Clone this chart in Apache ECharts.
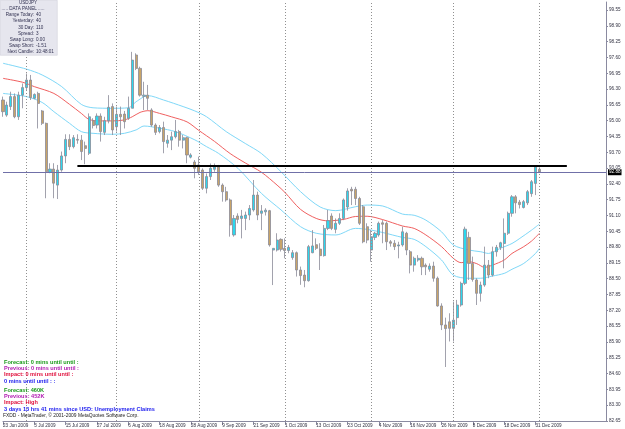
<!DOCTYPE html>
<html>
<head>
<meta charset="utf-8">
<script src="https://cdn.jsdelivr.net/npm/echarts@6.0.0/dist/echarts.min.js"></script>
<style>
html, body { margin: 0; padding: 0; background: #fff; }
#main { width: 625px; height: 429px; }
</style>
</head>
<body>
<div id="main"></div>
<script>
// USDJPY daily, 23 Jun 2009 .. 1 Jan 2010
const dateTicks = ['23 Jun 2009', '3 Jul 2009', '15 Jul 2009', '27 Jul 2009', '6 Aug 2009',
  '18 Aug 2009', '28 Aug 2009', '9 Sep 2009', '21 Sep 2009', '1 Oct 2009', '13 Oct 2009',
  '23 Oct 2009', '4 Nov 2009', '16 Nov 2009', '26 Nov 2009', '8 Dec 2009', '18 Dec 2009', '31 Dec 2009'];

// [open, close, low, high]
const candles = [
  [95.85, 95.37, 95.16, 95.99], [95.23, 95.64, 95.16, 95.78], [95.58, 95.99, 95.44, 96.19],
  [95.99, 95.16, 95.10, 96.12], [95.16, 96.05, 95.03, 96.19], [96.05, 96.36, 95.51, 96.53],
  [96.36, 96.67, 96.26, 96.94], [96.67, 95.95, 95.85, 96.88], [95.92, 96.08, 95.88, 96.12],
  [96.12, 95.71, 94.68, 96.19], [95.40, 94.89, 94.82, 95.44], [94.89, 92.90, 91.81, 94.92],
  [92.88, 93.01, 92.84, 93.25], [93.01, 92.43, 91.81, 93.25], [92.35, 92.97, 91.78, 93.18],
  [92.97, 93.55, 92.90, 93.73], [93.55, 94.23, 93.25, 94.44], [94.23, 93.93, 93.79, 94.44],
  [93.93, 94.30, 93.86, 94.41], [94.23, 94.20, 94.05, 94.44], [94.20, 93.73, 93.38, 94.41],
  [93.97, 93.86, 93.21, 94.14], [93.66, 95.16, 93.59, 95.30], [95.00, 94.80, 94.68, 95.10],
  [94.82, 95.19, 94.68, 95.30], [95.19, 94.55, 94.14, 95.30], [94.52, 95.00, 94.41, 95.16],
  [95.00, 95.55, 94.89, 96.05], [95.58, 94.62, 94.41, 95.71], [94.75, 95.26, 94.55, 95.58],
  [95.26, 95.16, 94.41, 95.58], [95.27, 94.96, 94.68, 95.40], [95.10, 95.51, 95.03, 95.99],
  [95.51, 97.49, 95.51, 97.83], [97.70, 97.15, 97.08, 97.77], [97.15, 96.05, 95.99, 97.22],
  [96.00, 96.05, 95.44, 96.60], [96.05, 95.92, 95.44, 96.47], [95.44, 94.82, 94.75, 95.51],
  [94.82, 94.52, 94.41, 94.89], [94.55, 94.72, 94.48, 94.82], [94.72, 94.14, 93.66, 94.96],
  [94.07, 94.20, 93.89, 94.41], [94.20, 94.34, 93.79, 94.55], [94.34, 94.55, 94.27, 95.03],
  [94.55, 94.20, 93.93, 94.62], [94.20, 94.30, 93.86, 94.41], [94.30, 93.59, 93.25, 94.34],
  [93.50, 93.59, 93.45, 93.66], [93.30, 93.04, 92.63, 93.38], [93.18, 92.90, 92.77, 93.52],
  [92.97, 92.22, 92.15, 93.04], [92.22, 92.70, 92.01, 92.83], [92.70, 93.04, 92.56, 93.24],
  [93.00, 93.10, 92.90, 93.24], [93.10, 92.35, 92.28, 93.18], [92.35, 92.08, 91.67, 92.42],
  [92.08, 91.74, 91.67, 92.28], [91.74, 90.71, 90.23, 91.80], [90.30, 90.98, 90.23, 91.12],
  [91.08, 90.94, 90.78, 91.19], [90.98, 91.08, 90.16, 91.33], [90.98, 91.12, 90.50, 91.26],
  [91.12, 91.39, 90.91, 91.53], [91.33, 91.94, 91.26, 92.56], [91.94, 91.12, 90.91, 92.08],
  [91.19, 91.29, 90.50, 91.53], [91.25, 91.32, 91.10, 91.40], [91.30, 89.89, 89.82, 91.33],
  [89.68, 89.75, 88.24, 89.75], [89.68, 90.09, 89.62, 90.37], [90.12, 89.71, 89.62, 90.16],
  [89.75, 89.66, 89.34, 90.16], [89.66, 89.79, 89.55, 89.89], [89.37, 89.57, 89.28, 89.68],
  [89.57, 88.86, 88.59, 89.62], [88.86, 88.63, 88.25, 89.00], [88.65, 88.42, 88.15, 88.86],
  [88.42, 89.82, 88.38, 89.89], [89.57, 89.85, 89.55, 90.50], [89.90, 89.75, 89.68, 90.16],
  [89.72, 89.45, 88.86, 89.96], [89.45, 90.57, 89.41, 90.71], [90.57, 90.89, 90.50, 91.33],
  [91.08, 90.57, 90.50, 91.19], [90.53, 90.78, 90.37, 90.98], [90.78, 90.98, 90.71, 91.19],
  [90.98, 91.74, 90.91, 91.80], [91.45, 92.11, 91.30, 92.22], [92.18, 92.11, 91.53, 92.28],
  [92.18, 91.80, 91.53, 92.28], [91.80, 90.78, 90.71, 91.87], [91.46, 90.02, 89.96, 91.53],
  [90.64, 90.09, 89.96, 90.78], [89.68, 90.23, 89.20, 90.50], [90.20, 90.37, 90.09, 90.43],
  [90.30, 90.78, 90.23, 90.85], [90.80, 90.74, 89.96, 90.91], [90.78, 90.02, 89.68, 90.85],
  [90.02, 89.96, 89.82, 90.09], [89.96, 89.82, 89.68, 90.09], [89.85, 89.89, 89.34, 90.02],
  [89.89, 90.43, 89.82, 90.64], [90.37, 89.68, 89.47, 90.43], [89.61, 89.06, 88.72, 89.68],
  [89.06, 89.34, 88.79, 89.41], [89.27, 89.34, 89.20, 89.47], [89.34, 88.99, 88.65, 89.41],
  [89.06, 88.99, 88.65, 89.13], [88.89, 89.02, 88.79, 89.13], [89.02, 88.52, 88.38, 89.20],
  [88.52, 87.38, 87.35, 88.59], [87.38, 86.60, 86.39, 87.49], [86.60, 86.45, 84.87, 86.90],
  [86.73, 86.46, 85.92, 87.08], [86.46, 86.80, 85.92, 87.56], [86.90, 87.42, 86.60, 87.63],
  [87.42, 88.31, 87.35, 88.38], [88.31, 90.54, 88.24, 90.64], [90.20, 89.13, 88.45, 90.43],
  [89.13, 88.47, 88.38, 89.41], [88.45, 87.90, 87.42, 88.52], [87.90, 88.24, 87.56, 88.38],
  [88.24, 89.06, 88.17, 89.82], [89.06, 88.65, 88.52, 89.27], [88.65, 89.61, 88.59, 89.82],
  [89.61, 89.79, 89.41, 89.89], [89.79, 89.98, 89.68, 90.02], [89.95, 90.37, 88.93, 90.98],
  [90.37, 91.19, 90.30, 91.26], [91.19, 91.87, 91.05, 91.94], [91.87, 91.62, 91.19, 91.94],
  [91.65, 91.55, 91.39, 91.74], [91.43, 91.67, 91.39, 91.74], [91.62, 92.08, 91.53, 92.15],
  [92.00, 92.49, 91.87, 92.56], [92.42, 93.10, 91.94, 93.17], [93.00, 92.88, 92.86, 93.08]
];

// moving average and its envelope, read at [bar index, price]
const maMid = [[0, 96.74], [5, 96.58], [8, 96.40], [13, 96.12], [17, 95.67], [20, 95.30],
  [22, 95.05], [25, 94.99], [28, 94.99], [31, 95.03], [33, 95.16], [35, 95.34], [37, 95.41],
  [40, 95.30], [43, 95.16], [47, 94.95], [50, 94.60], [54, 94.15], [58, 93.65], [62, 93.25],
  [66, 92.88], [70, 92.35], [72, 92.05], [76, 91.35], [80, 90.98], [83, 90.88], [87, 90.94],
  [90, 91.06], [93, 91.07], [97, 90.93], [102, 90.67], [105, 90.57], [108, 90.30], [112, 89.82],
  [115, 89.34], [117, 89.16], [119, 89.20], [121, 89.12], [123, 88.97], [125, 89.06],
  [128, 89.27], [130, 89.54], [133, 89.82], [135, 90.05], [137, 90.37]];
const maUpper = [[0, 97.36], [6, 97.12], [10, 96.88], [15, 96.40], [20, 95.67], [23, 95.53],
  [28, 95.51], [32, 95.53], [34, 95.78], [37, 96.03], [41, 95.85], [46, 95.58], [49, 95.40],
  [52, 95.16], [57, 94.55], [62, 94.05], [66, 93.65], [71, 92.90], [76, 92.08], [81, 91.45],
  [85, 91.30], [90, 91.46], [93, 91.53], [97, 91.49], [102, 91.16], [105, 91.11], [108, 90.91],
  [112, 90.43], [115, 89.89], [119, 89.68], [122, 89.61], [124, 89.54], [127, 89.75],
  [130, 89.95], [132, 90.16], [135, 90.50], [137, 90.75]];
const maLower = [[0, 96.12], [6, 95.99], [10, 95.75], [13, 95.37], [17, 94.89], [20, 94.55],
  [23, 94.48], [28, 94.44], [31, 94.48], [34, 94.62], [36, 94.78], [40, 94.69], [44, 94.55],
  [49, 94.21], [52, 93.93], [55, 93.66], [60, 93.04], [66, 92.01], [71, 91.33], [76, 90.64],
  [80, 90.37], [85, 90.30], [90, 90.57], [93, 90.53], [97, 90.40], [102, 90.20], [105, 90.12],
  [108, 89.82], [112, 89.27], [115, 88.65], [119, 88.52], [122, 88.52], [125, 88.61],
  [128, 88.72], [130, 88.89], [133, 89.13], [136, 89.54], [137, 89.75]];

const monthStarts = [6, 29, 50, 72, 94, 115, 137];
const trendLevel = 93.15;
const trendFrom = 19;
const trendTo = 144;
const lastPrice = 92.88;
const totalSlots = 155;

const panelRows = [
  ['Range Today:', '40'], ['Yesterday:', '40'], ['30 Day:', '110'], ['Spread:', '3'],
  ['Swap Long:', '0.00'], ['Swap Short:', '-1.51'], ['Next Candle:', '10:48:01']
];
const newsLines = [
  ['Forecast: 0 mins until until :', '#1a9a1a'],
  ['Previous: 0 mins until until :', '#b01ab0'],
  ['Impact: 0 mins until until :', '#e0103c'],
  ['0 mins until until : :', '#1a1aee'],
  ['Forecast: 460K', '#1a9a1a'],
  ['Previous: 452K', '#b01ab0'],
  ['Impact: High', '#e0103c'],
  ['3 days 13 hrs 41 mins since USD: Unemployment Claims', '#1a1aee']
];
const newsTops = [359.8, 365.6, 371.6, 378.8, 387.2, 393.2, 399.8, 406.4];

const FONT = 'Liberation Sans';
const slots = Array.from({ length: totalSlots }, (_, i) => String(i));
const showTick = (i) => i % 8 === 0 && i / 8 < dateTicks.length;

const chart = echarts.init(document.getElementById('main'));

const graphics = [];
// data panel
graphics.push({
  type: 'rect', left: 0, top: 0, z: 100,
  shape: { width: 57, height: 55 },
  style: { fill: '#e6e6ee', stroke: '#c8c8d4', lineWidth: 0.5 }
});
graphics.push({
  type: 'text', x: 28, y: 0, z: 101,
  style: { text: 'USDJPY', font: '4.6px ' + FONT, fill: '#303050', textAlign: 'center' }
});
graphics.push({
  type: 'text', x: 23, y: 6, z: 101,
  style: { text: '..... DATA PANEL .....', font: '4.6px ' + FONT, fill: '#303050', textAlign: 'center' }
});
panelRows.forEach((r, k) => {
  graphics.push({
    type: 'text', x: 34, y: 12.5 + k * 6.2, z: 101,
    style: { text: r[0], font: '4.6px ' + FONT, fill: '#303050', textAlign: 'right' }
  });
  graphics.push({
    type: 'text', x: 36, y: 12.5 + k * 6.2, z: 101,
    style: { text: r[1], font: '4.6px ' + FONT, fill: '#303050', textAlign: 'left' }
  });
});
// news block
newsLines.forEach((r, k) => {
  graphics.push({
    type: 'text', x: 4, y: newsTops[k], z: 101,
    style: { text: r[0], font: 'bold 5.6px ' + FONT, fill: r[1] }
  });
});
graphics.push({
  type: 'text', x: 3, y: 413.4, z: 101,
  style: { text: 'FXDD - MetaTrader, \u00a9 2001-2009 MetaQuotes Software Corp.', font: '4.9px ' + FONT, fill: '#202020' }
});

chart.setOption({
  animation: false,
  backgroundColor: '#ffffff',
  grid: { left: 0, right: 19, top: 2, bottom: 8 },
  xAxis: {
    type: 'category',
    data: slots,
    boundaryGap: false,
    axisLine: { show: true, lineStyle: { color: '#8a8aa0', width: 1 } },
    axisTick: { show: true, interval: (i) => showTick(i), length: 4, lineStyle: { color: '#8a8aa0' } },
    axisLabel: {
      interval: (i) => showTick(i),
      formatter: (v, i) => dateTicks[i / 8],
      fontSize: 4.6, fontFamily: FONT, color: '#303040', align: 'left', margin: 2
    },
    splitLine: { show: false }
  },
  yAxis: {
    type: 'value',
    position: 'right',
    min: 82.65,
    max: 99.88,
    interval: 0.65,
    axisLine: { show: true, lineStyle: { color: '#8a8aa0', width: 1 } },
    axisTick: { show: true, length: 2, lineStyle: { color: '#8a8aa0' } },
    axisLabel: {
      fontSize: 4.6, fontFamily: FONT, color: '#303040', margin: 3,
      showMaxLabel: false,
      formatter: (v) => v.toFixed(2)
    },
    splitLine: { show: false }
  },
  graphic: graphics,
  series: [
    {
      type: 'candlestick',
      data: candles,
      barWidth: 2.6,
      itemStyle: {
        color: '#2cd8ee', color0: '#c8a468',
        borderColor: '#8a8a98', borderColor0: '#8a8a98', borderWidth: 0.8
      },
      markLine: {
        silent: true,
        symbol: ['none', 'none'],
        animation: false,
        data: [
          ...monthStarts.map((i) => ({
            xAxis: i,
            lineStyle: { color: '#909090', type: [1, 2], width: 1 },
            label: { show: false }
          })),
          [
            { coord: [trendFrom, trendLevel], lineStyle: { color: '#000000', width: 2, type: 'solid' }, label: { show: false } },
            { coord: [trendTo, trendLevel] }
          ],
          {
            yAxis: lastPrice,
            lineStyle: { color: '#7070a8', width: 1, type: 'solid' },
            label: {
              show: true, position: 'end', formatter: lastPrice.toFixed(2),
              backgroundColor: '#000000', color: '#ffffff', fontSize: 4.6, fontFamily: FONT,
              padding: [1, 1, 0, 1], distance: 2
            }
          }
        ]
      }
    },
    {
      type: 'line', data: maUpper, symbol: 'none', smooth: 0.3,
      lineStyle: { color: '#7fd8f8', width: 1 }, z: 1
    },
    {
      type: 'line', data: maMid, symbol: 'none', smooth: 0.3,
      lineStyle: { color: '#f06060', width: 1 }, z: 1
    },
    {
      type: 'line', data: maLower, symbol: 'none', smooth: 0.3,
      lineStyle: { color: '#7fd8f8', width: 1 }, z: 1
    }
  ]
});
</script>
</body>
</html>
